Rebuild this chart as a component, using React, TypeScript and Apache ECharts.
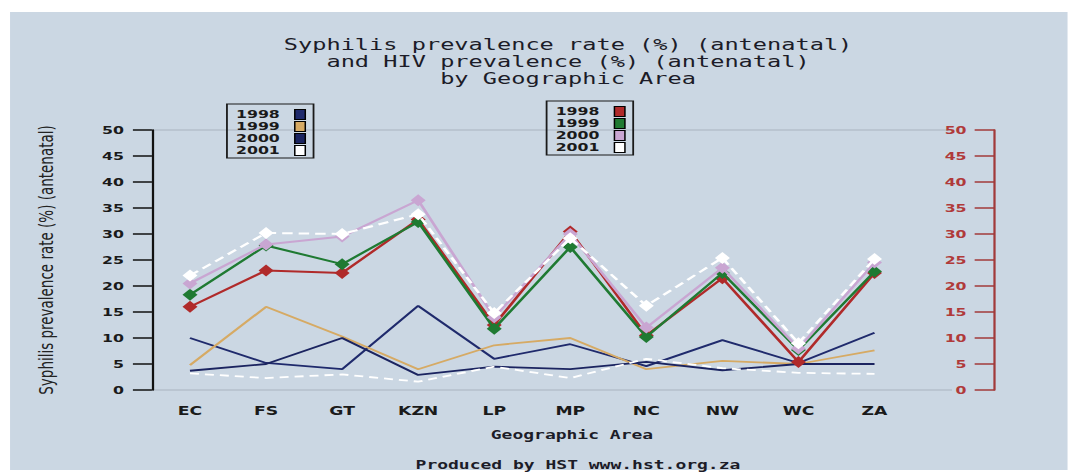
import React, { useEffect, useRef } from 'react';
import * as echarts from 'echarts';

// Horizontal stretch of the whole reference picture
const S = 1.5;
const W = 1070 / S;
const H = 473;

const categories = ['EC', 'FS', 'GT', 'KZN', 'LP', 'MP', 'NC', 'NW', 'WC', 'ZA'];
const years = ['1998', '1999', '2000', '2001'];
const axisMin = 0;
const axisMax = 50;
const axisInterval = 5;

// Syphilis prevalence rate (%) - left axis
const syph1998 = [10, 5.2, 4, 16.2, 6, 8.8, 4.6, 9.6, 5.2, 11];
const syph1999 = [4.8, 16, 10.3, 4, 8.6, 10, 4, 5.6, 5, 7.6];
const syph2000 = [3.7, 5, 10, 2.9, 4.5, 4, 5.4, 3.8, 5, 5];
const syph2001 = [3.2, 2.3, 3, 1.6, 4.5, 2.3, 6, 4.2, 3.3, 3.1];

// HIV prevalence (%) - right axis
const hiv1998 = [16, 23, 22.5, 32.8, 12.5, 30.5, 10.5, 21.5, 5.4, 22.5];
const hiv1999 = [18.3, 27.8, 24.2, 32.3, 11.8, 27.5, 10.2, 22.5, 7.7, 22.8];
const hiv2000 = [20.5, 28, 29.5, 36.5, 14, 30, 12, 23.5, 8, 24.5];
const hiv2001 = [22, 30.2, 30, 33.8, 14.8, 29.2, 16.2, 25.4, 9, 25.2];

const syphData = [syph1998, syph1999, syph2000, syph2001];
const hivData = [hiv1998, hiv1999, hiv2000, hiv2001];
const syphColors = ['#1f2a6c', '#d6aa64', '#1b2460', '#ffffff'];
const hivColors = ['#b02a2a', '#1f7a32', '#c9a6d2', '#ffffff'];

const titleLines = [
  'Syphilis prevalence rate (%) (antenatal)',
  'and HIV prevalence (%) (antenatal)',
  'by Geographic Area',
];
const xName = 'Geographic Area';
const yName = 'Syphilis prevalence rate (%) (antenatal)';
const footer = 'Produced by HST www.hst.org.za';

const mono = "'DejaVu Sans Mono', 'Liberation Mono', monospace";
const sans = "'DejaVu Sans', 'Liberation Sans', sans-serif";

function textEl(text: string, x: number, y: number, size: number, weight: string) {
  return {
    type: 'text',
    x,
    y,
    z: 10,
    style: {
      text,
      fill: '#1c1c28',
      fontSize: size,
      fontFamily: mono,
      fontWeight: weight,
      align: 'center',
      textAlign: 'center',
      verticalAlign: 'middle',
      textVerticalAlign: 'middle',
    },
  };
}

export default function App() {
  const ref = useRef<HTMLDivElement>(null);

  useEffect(() => {
    if (!ref.current) return;
    const chart = echarts.init(ref.current, null, { renderer: 'svg' });

    const legendBase = {
      orient: 'vertical',
      align: 'right',
      icon: 'rect',
      itemWidth: 7,
      itemHeight: 10,
      itemGap: 1,
      borderColor: '#1a1a1a',
      borderWidth: 1.2,
      padding: [5, 5, 2, 6],
      backgroundColor: 'transparent',
      itemStyle: { borderColor: '#000', borderWidth: 1 },
      textStyle: {
        color: '#1a1a1a',
        fontSize: 10.5,
        fontWeight: 'bold',
        fontFamily: sans,
        lineHeight: 11,
        padding: [0, 5, 0, 0],
      },
      formatter: (name: string) => name.slice(1),
      selectedMode: false,
    };

    const series: any[] = [];
    syphData.forEach((d, i) => {
      series.push({
        name: 'S' + years[i],
        type: 'line',
        yAxisIndex: 0,
        data: d,
        symbol: 'none',
        color: syphColors[i],
        lineStyle: {
          color: syphColors[i],
          width: 1.8,
          type: i === 3 ? [6, 4] : 'solid',
        },
        z: 2,
      });
    });
    hivData.forEach((d, i) => {
      series.push({
        name: 'H' + years[i],
        type: 'line',
        yAxisIndex: 1,
        data: d,
        symbol: 'diamond',
        symbolSize: [10, 12],
        color: hivColors[i],
        itemStyle: { color: hivColors[i] },
        lineStyle: {
          color: hivColors[i],
          width: 2,
          type: i === 3 ? [7, 4] : 'solid',
        },
        z: 3 + i,
      });
    });

    chart.setOption({
      animation: false,
      backgroundColor: '#ffffff',
      grid: { left: 101.3, right: W - 608.7, top: 130, bottom: 83 },
      legend: [
        {
          ...legendBase,
          left: 151.3,
          top: 104,
          data: years.map((y) => 'S' + y),
        },
        {
          ...legendBase,
          left: 364.4,
          top: 101,
          data: years.map((y) => 'H' + y),
        },
      ],
      xAxis: {
        type: 'category',
        data: categories,
        boundaryGap: true,
        axisLine: { show: false },
        axisTick: { show: false },
        splitLine: { show: false },
        axisLabel: {
          margin: 15,
          color: '#1a1a1a',
          fontSize: 11.5,
          fontWeight: 'bold',
          fontFamily: sans,
        },
      },
      yAxis: [
        {
          type: 'value',
          position: 'left',
          min: axisMin,
          max: axisMax,
          interval: axisInterval,
          name: yName,
          nameLocation: 'middle',
          nameGap: 64,
          nameTextStyle: { color: '#222', fontSize: 13.5, fontFamily: sans },
          axisLine: { show: true, lineStyle: { color: '#111', width: 1.5 } },
          axisTick: { show: true, length: 12.7, lineStyle: { color: '#111', width: 1.5 } },
          axisLabel: {
            margin: 18.7,
            color: '#1a1a1a',
            fontSize: 10.5,
            fontWeight: 'bold',
            fontFamily: sans,
          },
          splitLine: { show: false },
        },
        {
          type: 'value',
          position: 'right',
          offset: 54.7,
          min: axisMin,
          max: axisMax,
          interval: axisInterval,
          axisLine: { show: true, lineStyle: { color: '#a23a3a', width: 1.5 } },
          axisTick: { show: true, inside: true, length: 13.3, lineStyle: { color: '#a23a3a', width: 1.5 } },
          axisLabel: {
            inside: true,
            margin: 18.7,
            color: '#b03a3a',
            fontSize: 10.5,
            fontWeight: 'bold',
            fontFamily: sans,
          },
          splitLine: { show: false },
        },
      ],
      graphic: [
        {
          type: 'rect',
          z: -10,
          silent: true,
          shape: { x: 6.7, y: 12, width: 705, height: 458 },
          style: { fill: '#cbd7e3' },
        },
        {
          type: 'line',
          z: -5,
          silent: true,
          shape: { x1: 102, y1: 130, x2: 634.7, y2: 130 },
          style: { stroke: '#a9b3bf', lineWidth: 1.2 },
        },
        {
          type: 'line',
          z: -5,
          silent: true,
          shape: { x1: 102, y1: 390, x2: 634.7, y2: 390 },
          style: { stroke: '#a9b3bf', lineWidth: 1.2 },
        },
        textEl(titleLines[0], 378.7, 45, 15.75, 'normal'),
        textEl(titleLines[1], 378.7, 62, 15.75, 'normal'),
        textEl(titleLines[2], 378.7, 79, 15.75, 'normal'),
        textEl(xName, 381.3, 435, 12, 'bold'),
        textEl(footer, 385.3, 465, 12, 'bold'),
      ],
      series,
    });

    return () => chart.dispose();
  }, []);

  return (
    <div
      style={{
        position: 'absolute',
        left: 0,
        top: 0,
        width: 1070,
        height: 473,
        overflow: 'hidden',
        background: '#ffffff',
      }}
    >
      <div
        ref={ref}
        style={{
          width: W,
          height: H,
          transform: `scaleX(${S})`,
          transformOrigin: '0 0',
        }}
      />
    </div>
  );
}
